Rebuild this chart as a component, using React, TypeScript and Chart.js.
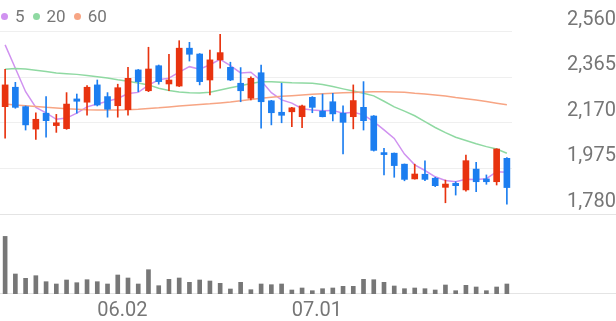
import React, { useEffect, useRef } from 'react';
import { Chart, registerables } from 'chart.js';

Chart.register(...registerables);

// ---- data ----
const dates = [
  '05.20', '05.21', '05.22', '05.23', '05.26', '05.27', '05.28', '05.29', '05.30',
  '06.02', '06.04', '06.05', '06.09', '06.10', '06.11', '06.12', '06.13', '06.16', '06.17',
  '06.18', '06.19', '06.20', '06.23', '06.24', '06.25', '06.26', '06.27', '06.30',
  '07.01', '07.02', '07.03', '07.04', '07.07', '07.08', '07.09', '07.10', '07.11',
  '07.14', '07.15', '07.16', '07.17', '07.18', '07.21', '07.22', '07.23', '07.24', '07.25',
  '07.28', '07.29', '07.30',
];

const opens = [2239, 2322, 2239, 2143, 2211, 2158, 2145, 2272, 2258, 2332, 2282, 2243, 2226, 2396, 2307, 2414, 2336, 2327, 2489, 2464, 2353, 2439, 2407, 2339, 2275, 2384, 2264, 2215, 2217, 2196, 2279, 2220, 2260, 2211, 2196, 2236, 2199, 2040, 2040, 1993, 1930, 1950, 1933, 1894, 1911, 1883, 1972, 1930, 1918, 2018];
const highs = [2399, 2343, 2242, 2213, 2282, 2206, 2299, 2293, 2329, 2353, 2299, 2335, 2407, 2398, 2493, 2417, 2463, 2521, 2514, 2466, 2481, 2548, 2429, 2406, 2367, 2417, 2266, 2339, 2236, 2246, 2282, 2293, 2296, 2242, 2332, 2346, 2201, 2061, 2041, 1994, 1993, 2007, 1937, 1925, 1918, 2032, 2001, 1947, 2059, 2021];
const lows = [2104, 2232, 2139, 2099, 2108, 2129, 2142, 2211, 2203, 2242, 2194, 2194, 2203, 2303, 2303, 2335, 2307, 2325, 2434, 2332, 2289, 2403, 2350, 2260, 2268, 2147, 2161, 2170, 2153, 2149, 2213, 2195, 2178, 2037, 2144, 2139, 2049, 1947, 1937, 1922, 1929, 1922, 1897, 1828, 1861, 1878, 1875, 1907, 1904, 1822];
const closes = [2332, 2236, 2161, 2185, 2179, 2170, 2250, 2262, 2322, 2246, 2228, 2320, 2360, 2346, 2400, 2346, 2353, 2489, 2463, 2346, 2439, 2470, 2353, 2307, 2360, 2260, 2213, 2202, 2234, 2242, 2236, 2196, 2208, 2172, 2265, 2179, 2052, 2034, 1987, 1928, 1951, 1928, 1901, 1908, 1901, 2008, 1918, 1918, 2058, 1893];

const volumes = [1152000, 400000, 314000, 366000, 246000, 200000, 280000, 226000, 286000, 246000, 200000, 380000, 320000, 200000, 486000, 166000, 294000, 320000, 234000, 280000, 260000, 214000, 100000, 234000, 86000, 200000, 186000, 200000, 80000, 120000, 66000, 106000, 120000, 154000, 154000, 294000, 286000, 234000, 160000, 106000, 120000, 106000, 80000, 180000, 66000, 174000, 140000, 66000, 140000, 200000];

const ma5 = [2503, 2403, 2303, 2236, 2212, 2185, 2190, 2211, 2238, 2250, 2262, 2274, 2295, 2300, 2331, 2354, 2361, 2387, 2410, 2399, 2418, 2441, 2414, 2383, 2386, 2350, 2299, 2268, 2254, 2230, 2225, 2222, 2223, 2211, 2215, 2204, 2175, 2140, 2103, 2036, 1990, 1966, 1939, 1923, 1918, 1929, 1927, 1931, 1961, 1959];
const ma20 = [2399, 2402, 2400, 2395, 2389, 2383, 2380, 2377, 2372, 2367, 2361, 2354, 2348, 2340, 2332, 2318, 2308, 2302, 2298, 2297, 2301, 2310, 2320, 2328, 2338, 2345, 2345, 2343, 2341, 2340, 2339, 2334, 2325, 2315, 2306, 2296, 2285, 2262, 2238, 2220, 2200, 2175, 2150, 2128, 2108, 2094, 2080, 2068, 2058, 2040];
const ma60 = [2250, 2246, 2243, 2240, 2236, 2233, 2230, 2228, 2226, 2225, 2225, 2225, 2226, 2228, 2231, 2234, 2238, 2242, 2245, 2248, 2251, 2255, 2259, 2264, 2270, 2275, 2279, 2283, 2286, 2289, 2292, 2294, 2296, 2298, 2300, 2302, 2303, 2303, 2302, 2301, 2296, 2293, 2289, 2285, 2278, 2273, 2267, 2261, 2254, 2247];

const priceTicks = [1780, 1975, 2170, 2365, 2560];
const priceMin = 1780;
const priceMax = 2695;
const volumeMax = 1600000;
const xTickLabels = ['06.02', '07.01'];
const legendLabels = ['5', '20', '60'];

// ---- styles ----
const UP = '#e8330f';
const DOWN = '#1c7ef0';
const VOL = '#777777';
const MA_COLORS = ['#d092f0', '#8fd9a2', '#f7a584'];
const GRID = '#efefef';
const TEXT = '#767676';
const FONT = 'Roboto, "Noto Sans", sans-serif';

const dividerPlugin = {
  id: 'divider',
  beforeDatasetsDraw(chart: any) {
    const { ctx, chartArea, scales } = chart;
    const y1 = Math.round(scales.y.getPixelForValue(priceTicks[0])) + 0.5;
    const y2 = Math.round(chartArea.bottom) - 0.5;
    ctx.save();
    ctx.strokeStyle = '#e4e4e4';
    ctx.lineWidth = 1;
    ctx.beginPath();
    ctx.moveTo(0, y1);
    ctx.lineTo(chart.width, y1);
    ctx.moveTo(0, y2);
    ctx.lineTo(chart.width, y2);
    ctx.stroke();
    ctx.restore();
  },
};

const noPad = (s: any) => {
  s.paddingTop = 0;
  s.paddingBottom = 0;
  s.paddingLeft = 0;
  s.paddingRight = 0;
};

export default function App() {
  const ref = useRef<HTMLCanvasElement | null>(null);

  useEffect(() => {
    if (!ref.current) return;
    const colors = opens.map((o, i) => (closes[i] >= o ? UP : DOWN));
    const lineDs = (label: string, data: number[], color: string) => ({
      type: 'line' as const,
      label,
      data,
      borderColor: color,
      backgroundColor: color,
      borderWidth: 1.5,
      pointRadius: 0,
      tension: 0,
      yAxisID: 'y',
      order: 5,
    });
    const chart = new Chart(ref.current, {
      type: 'bar',
      data: {
        labels: dates,
        datasets: [
          lineDs('60', ma60, MA_COLORS[2]),
          lineDs('20', ma20, MA_COLORS[1]),
          lineDs('5', ma5, MA_COLORS[0]),
          {
            type: 'bar',
            label: 'wick',
            data: lows.map((l, i) => [l, highs[i]]),
            backgroundColor: colors,
            barThickness: 1,
            grouped: false,
            yAxisID: 'y',
            order: 2,
          },
          {
            type: 'bar',
            label: 'body',
            data: opens.map((o, i) => [o, closes[i]]),
            backgroundColor: colors,
            barThickness: 6,
            minBarLength: 2,
            grouped: false,
            yAxisID: 'y',
            order: 1,
          },
          {
            type: 'bar',
            label: 'volume',
            data: volumes,
            backgroundColor: VOL,
            barThickness: 4,
            grouped: false,
            yAxisID: 'yv',
            order: 1,
          },
        ] as any,
      },
      options: {
        animation: false,
        responsive: false,
        maintainAspectRatio: false,
        layout: { padding: 0 },
        plugins: { legend: { display: false }, tooltip: { enabled: false } },
        scales: {
          x: {
            offset: true,
            grid: {
              offset: false,
              drawTicks: false,
              color: (c: any) => (xTickLabels.includes(dates[c.index]) ? GRID : 'rgba(0,0,0,0)'),
            },
            border: { display: false },
            ticks: {
              autoSkip: false,
              maxRotation: 0,
              align: 'start',
              padding: 5,
              color: TEXT,
              font: { family: FONT, size: 20 },
              callback: (_v: any, i: number) => (xTickLabels.includes(dates[i]) ? dates[i] : null),
            },
            afterFit: (s: any) => {
              noPad(s);
              s.height = 27;
            },
          },
          y: {
            position: 'right',
            stack: 'p',
            stackWeight: 214,
            min: priceMin,
            max: priceMax,
            afterBuildTicks: (s: any) => {
              s.ticks = priceTicks.map((v) => ({ value: v }));
            },
            grid: { color: GRID, drawTicks: false },
            border: { display: false },
            ticks: {
              autoSkip: false,
              crossAlign: 'far',
              padding: 51,
              labelOffset: -12,
              color: TEXT,
              font: { family: FONT, size: 20 },
              callback: (v: any) => Number(v).toLocaleString('en-US'),
            },
            afterFit: (s: any) => {
              noPad(s);
              s.width = 104;
            },
          },
          yv: {
            position: 'right',
            stack: 'p',
            stackWeight: 80,
            min: 0,
            max: volumeMax,
            grid: { display: false },
            border: { display: false },
            ticks: { display: false },
            afterFit: (s: any) => {
              noPad(s);
              s.width = 104;
            },
          },
        },
      } as any,
      plugins: [dividerPlugin],
    });
    return () => chart.destroy();
  }, []);

  return (
    <div style={{ position: 'fixed', left: 0, top: 0, width: 616, height: 321, background: '#fff' }}>
      <canvas ref={ref} width={616} height={321} style={{ width: 616, height: 321, display: 'block' }} />
      <div
        style={{
          position: 'absolute',
          left: 1,
          top: 6,
          display: 'flex',
          alignItems: 'center',
          fontFamily: FONT,
          fontSize: 17,
          color: TEXT,
          lineHeight: '20px',
        }}
      >
        {legendLabels.map((l, i) => (
          <span key={l} style={{ display: 'flex', alignItems: 'center', marginRight: 8 }}>
            <span
              style={{
                width: 7,
                height: 7,
                borderRadius: '50%',
                background: MA_COLORS[i],
                display: 'inline-block',
                marginRight: 7,
              }}
            />
            {l}
          </span>
        ))}
      </div>
    </div>
  );
}
